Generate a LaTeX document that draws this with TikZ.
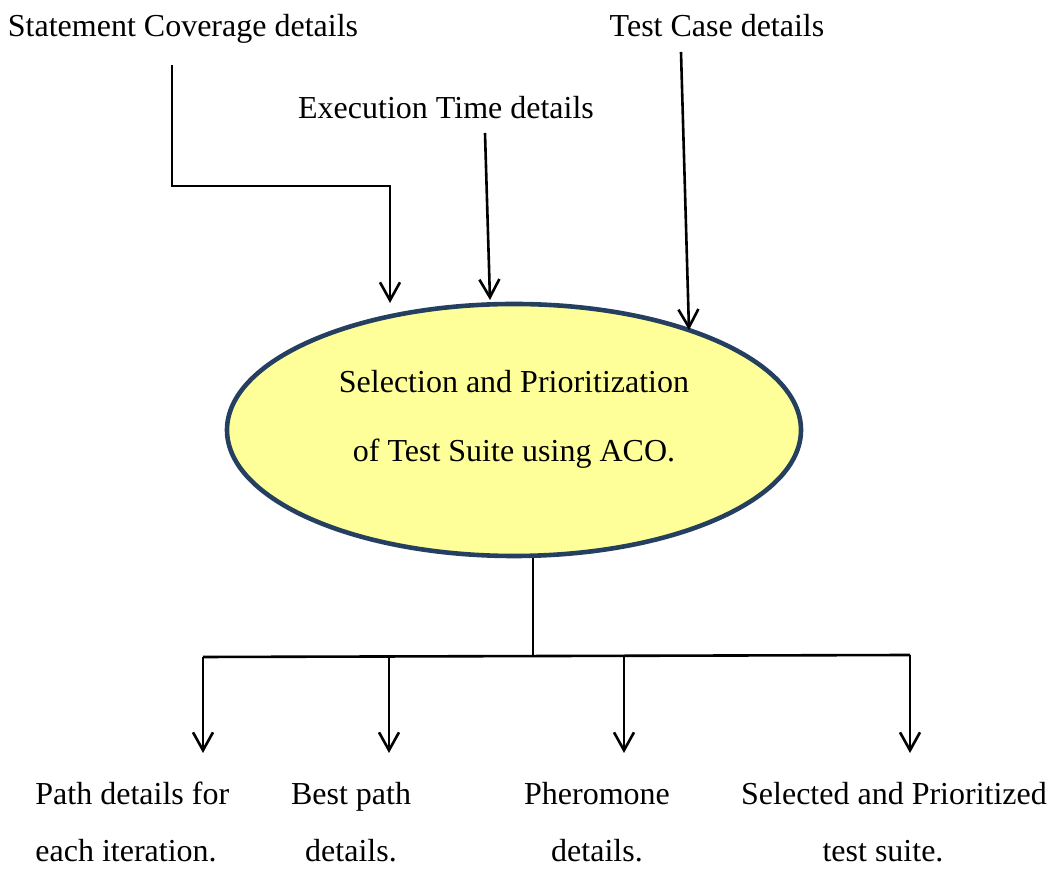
\documentclass[tikz,border=0pt]{standalone}
\usepackage{fontspec}
\setmainfont{Liberation Serif}
\usetikzlibrary{arrows.meta,shapes.geometric}
\definecolor{ellfill}{HTML}{FFFF99}
\definecolor{elldraw}{HTML}{243F60}
\begin{document}
\begin{tikzpicture}[x=0.5pt,y=-0.5pt,
  lbl/.style={inner sep=0pt,font=\fontsize{16}{19}\selectfont},
  wire/.style={line width=1.3pt,draw=black},
  arr/.style={wire,-{Straight Barb[length=9pt,width=10pt,line width=1.3pt]}}]
\useasboundingbox (0,0) rectangle (1057,870);
% top labels
\node[lbl,anchor=base] (sc) at (183,37) {Statement Coverage details};
\node[lbl,anchor=base] (tc) at (717,37) {Test Case details};
\node[lbl,anchor=base] (et) at (446,119) {Execution Time details};
% ellipse
\node[ellipse,draw=elldraw,fill=ellfill,line width=2.3pt,inner sep=0pt,
      minimum width=287pt,minimum height=126pt] (aco) at (514,430) {};
\node[lbl,anchor=base] (l1) at (514,393) {Selection and Prioritization};
\node[lbl,anchor=base] (l2) at (514,462) {of Test Suite using ACO.};
% input connectors
\coordinate (a1) at (172,65);
\coordinate (t1) at (390,303);
\coordinate (a2) at (485,133);
\coordinate (t2) at (490,300);
\coordinate (a3) at (681,52);
\coordinate (t3) at (689,330);
\draw[arr] (a1) |- (390,186) -- (t1);
\draw[arr] (a2) -- (t2);
\draw[arr] (a3) -- (t3);
% output bus
\coordinate (b0) at (533,558);
\coordinate (b1) at (533,657);
\coordinate (bl) at (203,657);
\coordinate (br) at (910,655);
\draw[wire] (b0) -- (b1);
\draw[wire] (bl) -- (br);
\coordinate (o1) at (203,753);
\coordinate (o2) at (389,753);
\coordinate (o3) at (624,753);
\coordinate (o4) at (910,753);
\draw[arr] (bl) -- (o1);
\draw[arr] (389,657) -- (o2);
\draw[arr] (624,656) -- (o3);
\draw[arr] (br) -- (o4);
% bottom labels
\node[lbl,anchor=base west] (p1) at (35,805) {Path details for};
\node[lbl,anchor=base west] (p2) at (35,862) {each iteration.};
\node[lbl,anchor=base] (q1) at (351,805) {Best path};
\node[lbl,anchor=base] (q2) at (351,862) {details.};
\node[lbl,anchor=base] (r1) at (597,805) {Pheromone};
\node[lbl,anchor=base] (r2) at (597,862) {details.};
\node[lbl,anchor=base] (s1) at (894,805) {Selected and Prioritized};
\node[lbl,anchor=base] (s2) at (883,862) {test suite.};
\end{tikzpicture}
\end{document}
